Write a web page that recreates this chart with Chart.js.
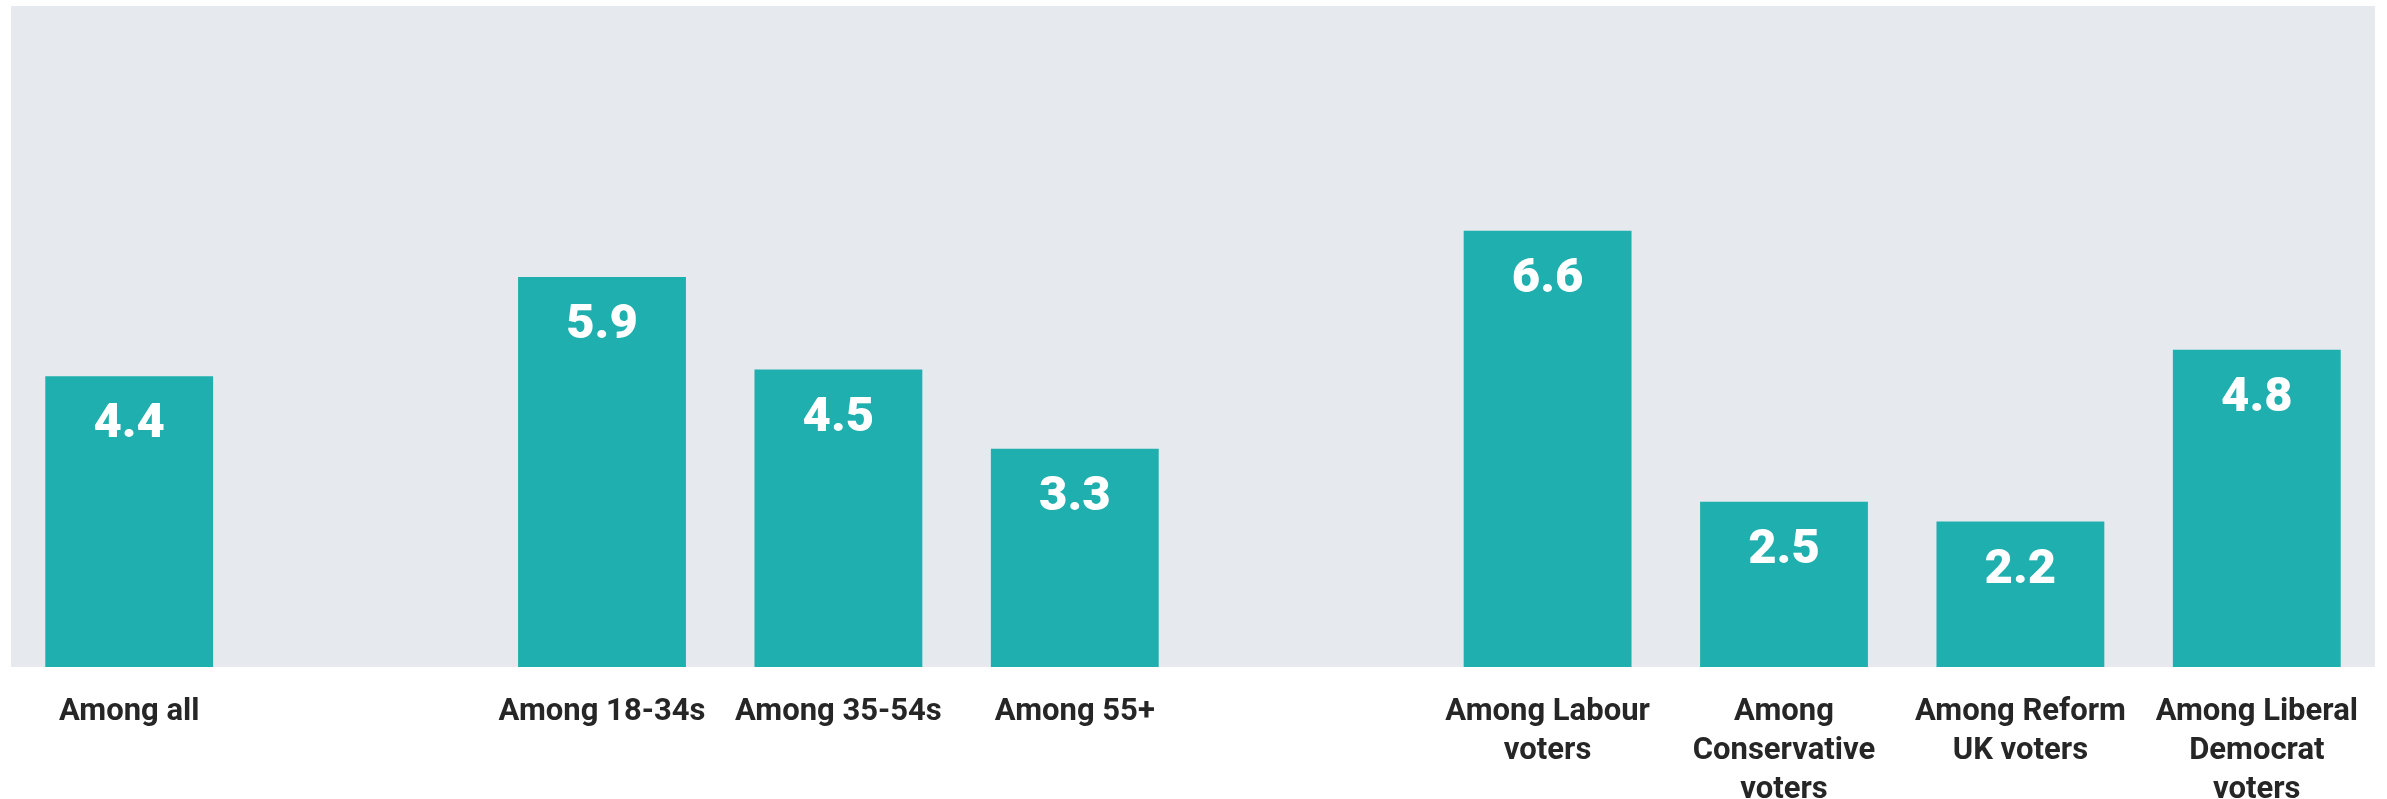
<!DOCTYPE html>
<html>
<head>
<meta charset="utf-8">
<script src="https://cdn.jsdelivr.net/npm/chart.js@4"></script>
<style>
  html, body { margin: 0; padding: 0; background: #fff; }
  #wrap { width: 2387px; height: 799px; }
</style>
</head>
<body>
<div id="wrap"><canvas id="barChart" width="2387" height="799"></canvas></div>
<script>
// categories (empty slots are the gaps between groups)
const categories = [
  "Among all",
  "",
  "Among 18-34s",
  "Among 35-54s",
  "Among 55+",
  "",
  ["Among Labour", "voters"],
  ["Among", "Conservative", "voters"],
  ["Among Reform", "UK voters"],
  ["Among Liberal", "Democrat", "voters"]
];
const values = [4.4, null, 5.9, 4.5, 3.3, null, 6.6, 2.5, 2.2, 4.8];

// grey plot background
const plotBg = {
  id: "plotBg",
  beforeDraw(chart) {
    const { ctx, chartArea: a } = chart;
    ctx.save();
    ctx.fillStyle = "#e6e9ee";
    ctx.fillRect(a.left, a.top, a.right - a.left, a.bottom - a.top);
    ctx.restore();
  }
};

// white value labels inside the top of each bar
const valueLabels = {
  id: "valueLabels",
  afterDatasetsDraw(chart) {
    const { ctx } = chart;
    const meta = chart.getDatasetMeta(0);
    ctx.save();
    ctx.fillStyle = "#ffffff";
    ctx.font = "900 49px Roboto";
    ctx.textAlign = "center";
    ctx.textBaseline = "middle";
    meta.data.forEach((bar, i) => {
      if (values[i] == null) return;
      ctx.fillText(values[i].toFixed(1), bar.x, bar.y + 49);
    });
    ctx.restore();
  }
};

new Chart(document.getElementById("barChart"), {
  type: "bar",
  data: {
    labels: categories,
    datasets: [{
      data: values,
      backgroundColor: "#1fafae",
      categoryPercentage: 1,
      barPercentage: 0.71
    }]
  },
  options: {
    responsive: false,
    animation: false,
    layout: { padding: { left: 11, right: 12, top: 6, bottom: 0 } },
    plugins: { legend: { display: false }, tooltip: { enabled: false } },
    scales: {
      x: {
        grid: { display: false },
        border: { display: false },
        afterFit(scale) { scale.height = 132; },
        ticks: {
          color: "#262626",
          font: { family: "Roboto", weight: "bold", size: 31, lineHeight: 1.25 },
          padding: 18,
          maxRotation: 0,
          minRotation: 0,
          autoSkip: false
        }
      },
      y: {
        display: false,
        min: 0,
        max: 10
      }
    }
  },
  plugins: [plotBg, valueLabels]
});
</script>
</body>
</html>
